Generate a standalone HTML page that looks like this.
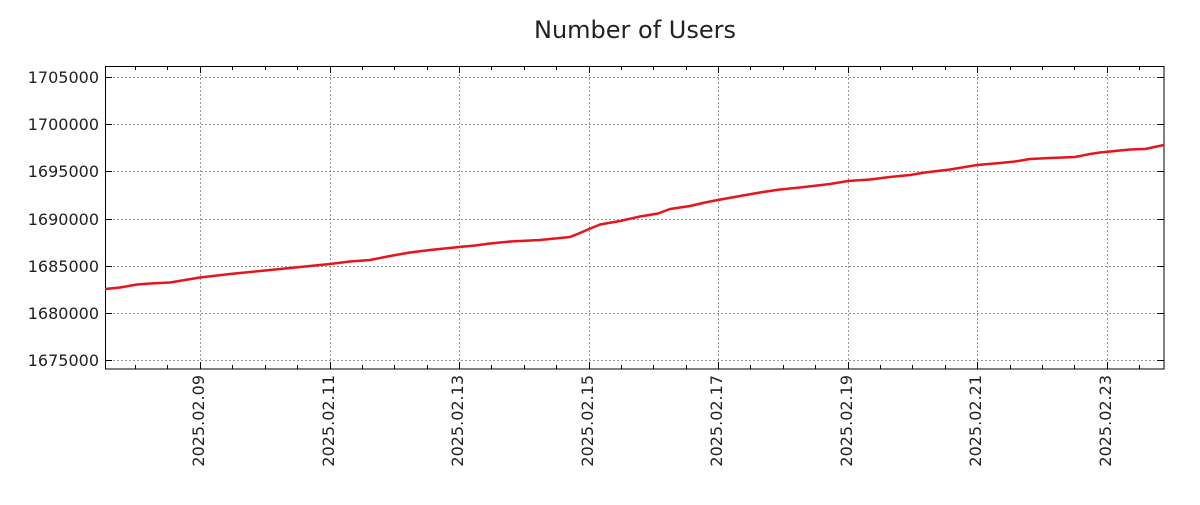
<!DOCTYPE html>
<html><head><meta charset="utf-8"><style>
html,body{margin:0;padding:0;background:#fff;}
svg text{font-family:"DejaVu Sans","Liberation Sans",sans-serif;fill:#222;}
</style></head><body>
<svg width="1200" height="500" viewBox="0 0 1200 500" xmlns="http://www.w3.org/2000/svg">
<text x="635" y="38" font-size="24" text-anchor="middle">Number of Users</text>
<g stroke="#999" stroke-width="1" stroke-dasharray="2,2">
<line x1="105" x2="1164" y1="77.5" y2="77.5"/>
<line x1="105" x2="1164" y1="124.5" y2="124.5"/>
<line x1="105" x2="1164" y1="171.5" y2="171.5"/>
<line x1="105" x2="1164" y1="219.5" y2="219.5"/>
<line x1="105" x2="1164" y1="266.5" y2="266.5"/>
<line x1="105" x2="1164" y1="313.5" y2="313.5"/>
<line x1="105" x2="1164" y1="360.5" y2="360.5"/>
<line y1="66" y2="369" x1="200.5" x2="200.5"/>
<line y1="66" y2="369" x1="330.5" x2="330.5"/>
<line y1="66" y2="369" x1="459.5" x2="459.5"/>
<line y1="66" y2="369" x1="589.5" x2="589.5"/>
<line y1="66" y2="369" x1="718.5" x2="718.5"/>
<line y1="66" y2="369" x1="848.5" x2="848.5"/>
<line y1="66" y2="369" x1="977.5" x2="977.5"/>
<line y1="66" y2="369" x1="1107.5" x2="1107.5"/>
</g>
<g stroke="#000" stroke-width="1">
<path d="M135.5 369v-4M167.5 369v-4M232.5 369v-4M265.5 369v-4M297.5 369v-4M362.5 369v-4M394.5 369v-4M427.5 369v-4M491.5 369v-4M524.5 369v-4M556.5 369v-4M621.5 369v-4M653.5 369v-4M686.5 369v-4M750.5 369v-4M783.5 369v-4M815.5 369v-4M880.5 369v-4M912.5 369v-4M945.5 369v-4M1010.5 369v-4M1042.5 369v-4M1074.5 369v-4M1139.5 369v-4"/>
<path d="M135.5 66v4M167.5 66v4M232.5 66v4M265.5 66v4M297.5 66v4M362.5 66v4M394.5 66v4M427.5 66v4M491.5 66v4M524.5 66v4M556.5 66v4M621.5 66v4M653.5 66v4M686.5 66v4M750.5 66v4M783.5 66v4M815.5 66v4M880.5 66v4M912.5 66v4M945.5 66v4M1010.5 66v4M1042.5 66v4M1074.5 66v4M1139.5 66v4"/>
<path d="M200.5 369v-7M330.5 369v-7M459.5 369v-7M589.5 369v-7M718.5 369v-7M848.5 369v-7M977.5 369v-7M1107.5 369v-7"/>
<path d="M200.5 66v7M330.5 66v7M459.5 66v7M589.5 66v7M718.5 66v7M848.5 66v7M977.5 66v7M1107.5 66v7"/>
<path d="M105 77.5h7M105 124.5h7M105 171.5h7M105 219.5h7M105 266.5h7M105 313.5h7M105 360.5h7"/>
<path d="M1164 77.5h-7M1164 124.5h-7M1164 171.5h-7M1164 219.5h-7M1164 266.5h-7M1164 313.5h-7M1164 360.5h-7"/>
<rect x="105.5" y="66.5" width="1058.5" height="302.5" fill="none"/>
</g>
<g font-size="16" text-anchor="end">
<text x="99" y="83">1705000</text>
<text x="99" y="130">1700000</text>
<text x="99" y="177">1695000</text>
<text x="99" y="225">1690000</text>
<text x="99" y="272">1685000</text>
<text x="99" y="319">1680000</text>
<text x="99" y="366">1675000</text>
</g>
<g font-size="16" text-anchor="end">
<text transform="translate(204,375) rotate(-90)">2025.02.09</text>
<text transform="translate(334,375) rotate(-90)">2025.02.11</text>
<text transform="translate(463,375) rotate(-90)">2025.02.13</text>
<text transform="translate(593,375) rotate(-90)">2025.02.15</text>
<text transform="translate(722,375) rotate(-90)">2025.02.17</text>
<text transform="translate(852,375) rotate(-90)">2025.02.19</text>
<text transform="translate(981,375) rotate(-90)">2025.02.21</text>
<text transform="translate(1111,375) rotate(-90)">2025.02.23</text>
</g>
<polyline fill="none" stroke="#e8141b" stroke-width="2.5" stroke-linejoin="round" points="105,289 120,287.5 137,284.5 150,283.5 170,282.5 185,280 200,277.5 230,274 265,270.5 300,267 330,264 350,261.5 370,260 390,256 410,252.5 430,250 459,247 475,245.5 490,243.5 510,241.5 540,240 570,237 580,233 589,229 600,224.5 620,221 640,216.5 658,213.5 670,209 690,206 705,202.5 718,200 740,196 760,192.5 780,189.5 800,187.5 830,184 848,181 870,179.5 890,177 910,175 925,172.5 950,169.5 965,167 977,165 1000,163 1015,161.5 1030,159 1050,158 1075,157 1090,154 1100,152.5 1115,151 1130,149.5 1145,149 1164,145"/>
</svg>
</body></html>
